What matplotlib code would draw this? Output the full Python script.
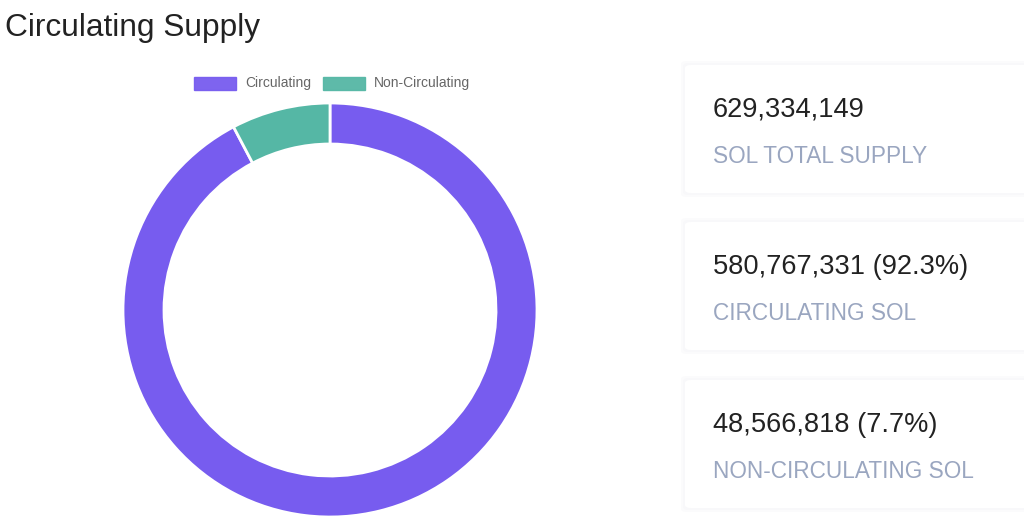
import matplotlib
matplotlib.use("Agg")
import matplotlib.pyplot as plt
from matplotlib.patches import FancyBboxPatch

labels = ["Circulating", "Non-Circulating"]
values = [580767331, 48566818]
colors = ["#775CEF", "#55B7A5"]
total_supply = 629334149
card_values = ["629,334,149", "580,767,331 (92.3%)", "48,566,818 (7.7%)"]
card_labels = ["SOL TOTAL SUPPLY", "CIRCULATING SOL", "NON-CIRCULATING SOL"]

W, H = 1024, 522
fig = plt.figure(figsize=(W / 100, H / 100), dpi=100)
fig.patch.set_facecolor("white")
plt.rcParams["font.family"] = ["Liberation Sans", "DejaVu Sans"]

def fx(px):
    return px / W

def fy(py):
    return 1 - py / H

# Title
fig.text(fx(5), fy(28), "Circulating Supply", fontsize=22.8, color="#222222",
         ha="left", va="center")

# Donut
cx, cy, R = 330, 310, 207
half = 212
ax = fig.add_axes([fx(cx - half), fy(cy + half), 2 * half / W, 2 * half / H])
ax.pie(values, colors=colors, radius=R, startangle=90, counterclock=False,
       wedgeprops=dict(width=41, edgecolor="white", linewidth=2),
       frame=True)
ax.set_xlim(-half, half)
ax.set_ylim(-half, half)
ax.axis("off")

# Legend
leg_items = [(194, 245), (323, 374)]
for (bx, tx), lab, col in zip(leg_items, labels, colors):
    fig.patches.append(plt.Rectangle((fx(bx), fy(90)), 42 / W, 13 / H,
                                     transform=fig.transFigure, facecolor=col,
                                     edgecolor=col, alpha=0.95))
    fig.text(fx(tx), fy(83.5), lab, fontsize=10, color="#666666", ha="left",
             va="center")

# Cards
card_tops = [65, 222, 380]
card_h = 128
for top, val, lab in zip(card_tops, card_values, card_labels):
    for off, c in [(4, "#fbfbfc"), (2, "#f8f8fa")]:
        fig.patches.append(FancyBboxPatch((fx(685 - off), fy(top + card_h + off)),
                                          (345 + 2 * off) / W, (card_h + 2 * off) / H,
                                          boxstyle="round,pad=0,rounding_size=0.006",
                                          transform=fig.transFigure,
                                          facecolor=c, edgecolor="none"))
    fig.patches.append(FancyBboxPatch((fx(685), fy(top + card_h)), 345 / W, card_h / H,
                                      boxstyle="round,pad=0,rounding_size=0.006",
                                      transform=fig.transFigure,
                                      facecolor="white", edgecolor="none"))
    fig.text(fx(713), fy(top + 45), val, fontsize=19.6, color="#222222",
             ha="left", va="center")
    fig.text(fx(713), fy(top + 91), lab, fontsize=16.3, color="#9AA6C0",
             ha="left", va="center")

fig.savefig("out.png", dpi=100, facecolor="white")
